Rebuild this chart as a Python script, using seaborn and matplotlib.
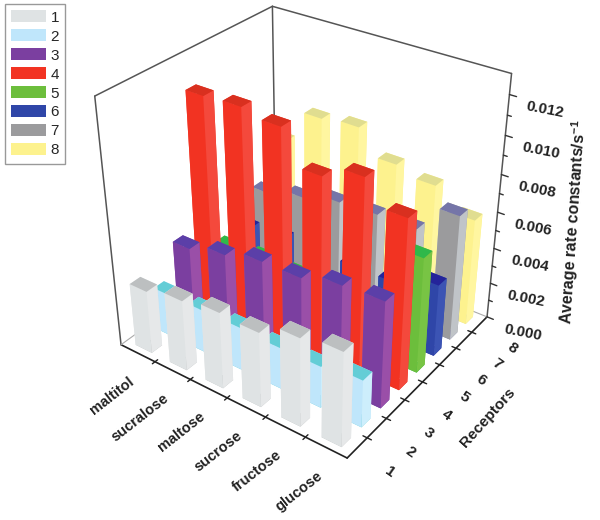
# 3D bar chart of average rate constants for receptors vs sugars
import numpy as np
import matplotlib
matplotlib.use("Agg")
import matplotlib.pyplot as plt
from matplotlib.patches import Patch
from mpl_toolkits.mplot3d import proj3d
import seaborn as sns

sugars = ["maltitol", "sucralose", "maltose", "sucrose", "fructose", "glucose"]
receptors = ["1", "2", "3", "4", "5", "6", "7", "8"]
z_ticks = [0.000, 0.002, 0.004, 0.006, 0.008, 0.010, 0.012]
z_label = "Average rate constants/s$^{-1}$"

# values, one list per receptor (sugars in order)
r1 = [0.0035, 0.0039, 0.0042, 0.0041, 0.0048, 0.0051]
r2 = [0.0024, 0.0024, 0.0024, 0.0023, 0.0023, 0.0026]
r3 = [0.0042, 0.0047, 0.0052, 0.0052, 0.0057, 0.0058]
r4 = [0.0115, 0.0116, 0.0113, 0.0096, 0.0103, 0.0091]
r5 = [0.0026, 0.0028, 0.0027, 0.0029, 0.0031, 0.0063]
r6 = [0.0030, 0.0032, 0.0032, 0.0032, 0.0032, 0.0040]
r7 = [0.0043, 0.0048, 0.0053, 0.0054, 0.0054, 0.0069]
r8 = [0.0066, 0.0085, 0.0087, 0.0074, 0.0070, 0.0059]

values = [r1, r2, r3, r4, r5, r6, r7, r8]

side_colors = ["#dfe3e4", "#bfe6fb", "#7b3fa0", "#f23322", "#6cbe3c", "#2f46a8", "#9b9b9d", "#fdf28e"]
right_colors = ["#e6e8e9", "#cdeefc", "#9a4fa8", "#f4493c", "#78c444", "#3c54b4", "#c0c4c8", "#fff6a0"]
top_colors = ["#bcbfc0", "#63cdd6", "#5b3fa8", "#d9301f", "#2fb84a", "#24249a", "#7575a8", "#e0dd90"]


def to_fig(fig, ax, x, y, z, off_x=0, off_y=0):
    # data position -> figure fraction, offsets in pixels
    px, py, _ = proj3d.proj_transform(x, y, z, ax.get_proj())
    sx, sy = ax.transData.transform((px, py))
    w, h = fig.canvas.get_width_height()
    return (sx + off_x) / w, (sy + off_y) / h


def main():
    sns.set_theme(style="white")
    plt.rcParams["font.family"] = ["Liberation Sans", "DejaVu Sans"]
    plt.rcParams["mathtext.default"] = "regular"

    fig = plt.figure(figsize=(6, 5.2), dpi=100)
    ax = fig.add_axes([0, 0.072, 1, 1], projection="3d", computed_zorder=False)
    ax.set_proj_type("persp", focal_length=0.42)
    ax.view_init(elev=32, azim=-54)
    ax.set_xlim(0, 6)
    ax.set_ylim(0, 8)
    ax.set_zlim(0, 0.013)
    ax.set_box_aspect((278, 260, 280), zoom=0.91)
    ax.set_axis_off()

    dx, dy = 0.48, 0.47
    zo = 10
    # back to front so that near bars cover far ones
    for j in range(len(receptors) - 1, -1, -1):
        faces = [top_colors[j], top_colors[j], side_colors[j], side_colors[j],
                 right_colors[j], right_colors[j]]
        for i in range(len(sugars)):
            ax.bar3d(i + 0.5 - dx / 2, j + 0.5 - dy / 2, 0, dx, dy, values[j][i],
                     color=faces, shade=False, zorder=zo, linewidth=0)
            zo += 1

    # box outline
    line = dict(color="#555555", lw=1.1)
    zmax = 0.013
    ax.plot([0, 6], [0, 0], [0, 0], color="#222222", lw=1.2, zorder=1)
    ax.plot([6, 6], [0, 8], [0, 0], color="#222222", lw=1.2, zorder=1)
    ax.plot([0, 0], [0, 0], [0, zmax], zorder=1, **line)
    ax.plot([0, 0], [0, 8], [zmax, zmax], zorder=1, **line)
    ax.plot([0, 6], [8, 8], [zmax, zmax], zorder=1, **line)
    ax.plot([0, 0], [8, 8], [0, zmax], zorder=1, **line)
    ax.plot([6, 6], [8, 8], [0, zmax], zorder=500, **line)
    ax.plot([0, 0], [0, 8], [0, 0], zorder=1, color="#aaaaaa", lw=0.8)
    ax.plot([0, 6], [8, 8], [0, 0], zorder=1, color="#aaaaaa", lw=0.8)

    # ticks sit between the categories
    for i in range(1, len(sugars)):
        ax.plot([i, i], [-0.12, 0.12], [0, 0], color="#222222", lw=1.0, zorder=500)
    for j in range(1, len(receptors)):
        ax.plot([5.9, 6.1], [j, j], [0, 0], color="#222222", lw=1.0, zorder=500)
    for z in np.arange(0, 13) * 0.001:
        size = 0.16 if round(z * 1000) % 2 == 0 else 0.09
        ax.plot([6, 6 + size], [8, 8], [z, z], color="#333333", lw=1.0, zorder=500)

    # the 3d axes only settles its box on draw, labels need the final transform
    fig.canvas.draw()

    text = dict(color="#222222", fontsize=10.5, fontweight="bold")
    for i, name in enumerate(sugars):
        fx, fy = to_fig(fig, ax, i + 0.5, 0, 0, -10, -21)
        fig.text(fx, fy, name, rotation=38, ha="right", va="top", rotation_mode="anchor", **text)
    for j, name in enumerate(receptors):
        fx, fy = to_fig(fig, ax, 6, j + 0.5, 0, 33, -24)
        fig.text(fx, fy, name, rotation=-35, ha="center", va="center", **{**text, "fontsize": 11})
    for z in z_ticks:
        fx, fy = to_fig(fig, ax, 6, 8, z, 17, -12)
        fig.text(fx, fy, f"{z:.3f}", rotation=-11, ha="left", va="center", rotation_mode="anchor",
                 **{**text, "fontsize": 11})

    fig.text(488 / 600, 1 - 418 / 520, "Receptors", rotation=48, ha="center", va="center",
             **{**text, "fontsize": 11})
    fig.text(0.955, 0.573, z_label, rotation=86, ha="center", va="center", **{**text, "fontsize": 11.5})

    handles = [Patch(facecolor=c, edgecolor="none", label=r) for c, r in zip(side_colors, receptors)]
    fig.legend(handles=handles, loc="upper left", bbox_to_anchor=(0.008, 0.992), frameon=True,
               fontsize=11, handlelength=2.3, handleheight=0.85, labelspacing=0.3, handletextpad=0.3,
               borderpad=0.4, borderaxespad=0, fancybox=False, edgecolor="#999999", framealpha=1)

    fig.savefig("out.png", dpi=100)


if __name__ == "__main__":
    main()
